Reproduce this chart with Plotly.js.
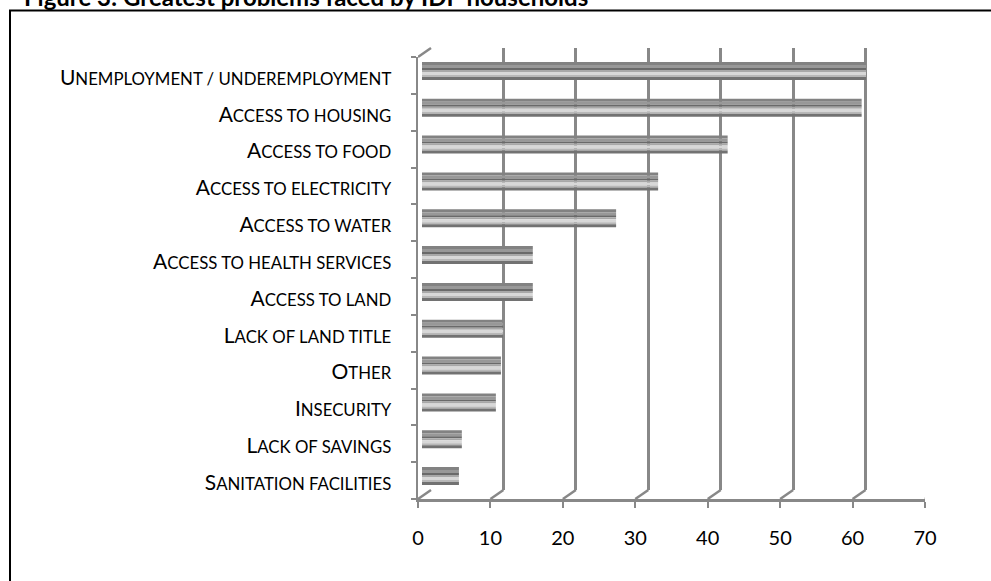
<!DOCTYPE html>
<html>
<head>
<meta charset="utf-8">
<script src="https://cdn.plot.ly/plotly-3.0.1.min.js"></script>
<style>html,body{margin:0;padding:0;background:#fff;}#chart{width:991px;height:581px;}</style>
</head>
<body>
<div id="chart"></div>
<script>
// ---- data ----
const categories = [
  "Unemployment / underemployment",
  "Access to housing",
  "Access to food",
  "Access to electricity",
  "Access to water",
  "Access to health services",
  "Access to land",
  "Lack of land title",
  "Other",
  "Insecurity",
  "Lack of savings",
  "Sanitation facilities"
];
const values = [61.3, 60.7, 42.2, 32.6, 26.8, 15.3, 15.3, 11.2, 10.9, 10.2, 5.5, 5.1];
const xTicks = [0, 10, 20, 30, 40, 50, 60, 70];
const titleText = "Figure 3: Greatest problems faced by IDP households";

// ---- geometry helpers (pixels -> paper) ----
const W = 991, H = 581;
const px = v => v / W;
const py = v => 1 - v / H;

// small-caps rendering of a label: capitals large, lower-case letters as smaller capitals
function smallCaps(s) {
  let out = '', buf = '';
  const flush = () => { if (buf) { out += '<span style="font-size:16.8px">' + buf.toUpperCase() + '</span>'; buf = ''; } };
  for (const ch of s) {
    if (ch !== ch.toLowerCase()) { flush(); out += ch; }
    else buf += ch;
  }
  flush();
  return out;
}
const tickText = categories.map(smallCaps);

// stripes for pseudo-cylindrical bars: [fromTopPx, toTopPx, colour]; bar spans 18px
const barTop = -13.5, bandPx = 36.83;
const stripes = [
  [0, 3, '#828282'],
  [3, 6, '#989898'],
  [6, 8, '#6a6a6a'],
  [8, 10, '#a8a8a8'],
  [10, 13, '#d8d8d8'],
  [13, 15, '#b8b8b8'],
  [15, 18, '#727272']
];

const traces = [];
// invisible trace for back subplot
traces.push({x: [0], y: [0], xaxis: 'x', yaxis: 'y', type: 'scatter', mode: 'markers',
  marker: {opacity: 0}, hoverinfo: 'skip', showlegend: false});
stripes.forEach(s => {
  traces.push({
    type: 'bar', orientation: 'h', x: values, y: categories,
    xaxis: 'x2', yaxis: 'y2',
    offset: (barTop + s[0]) / bandPx,
    width: (s[1] - s[0]) / bandPx,
    marker: {color: s[2], line: {width: 0}},
    showlegend: false, hoverinfo: 'x+y'
  });
});
// invisible trace for front axes subplot
traces.push({x: categories.map(() => 0), y: categories, xaxis: 'x3', yaxis: 'y3', type: 'scatter', mode: 'markers',
  marker: {opacity: 0}, hoverinfo: 'skip', showlegend: false});

const gridCol = '#888888';
const frontBottom = py(499), frontTop = py(57);
const catRange = [categories.length - 0.5, -0.5];
const shapes = [];
// floor diagonals
xTicks.forEach(t => {
  shapes.push({type: 'line', xref: 'x3', yref: 'paper', xsizemode: 'pixel', ysizemode: 'pixel',
    xanchor: t, yanchor: frontBottom, x0: 0, x1: 13, y0: 0, y1: 9,
    line: {color: gridCol, width: 2.5}});
});
// top-left wall diagonal
shapes.push({type: 'line', xref: 'x3', yref: 'paper', xsizemode: 'pixel', ysizemode: 'pixel',
  xanchor: 0, yanchor: frontTop, x0: 0, x1: 13, y0: 0, y1: 9,
  line: {color: gridCol, width: 2.5}});
// frame
shapes.push({type: 'rect', xref: 'paper', yref: 'paper', x0: px(10), x1: 1.02, y0: -0.05, y1: py(10.5),
  line: {color: '#000', width: 2}, fillcolor: 'rgba(0,0,0,0)'});

const layout = {
  width: W, height: H,
  margin: {l: 0, r: 0, t: 0, b: 0},
  paper_bgcolor: '#fff', plot_bgcolor: 'rgba(0,0,0,0)',
  barmode: 'overlay', showlegend: false,
  font: {family: 'Lato, sans-serif', color: '#000'},
  // back wall
  xaxis: {domain: [px(431), px(938)], range: [0, 70], tickvals: xTicks, showgrid: true,
    gridcolor: gridCol, gridwidth: 3, showticklabels: false, zeroline: false, showline: false,
    ticks: '', fixedrange: true, anchor: 'y'},
  yaxis: {domain: [py(490), py(48)], range: [0, 1], showgrid: false, showticklabels: false,
    zeroline: false, showline: false, ticks: '', anchor: 'x'},
  // bars (mid depth)
  xaxis2: {domain: [px(422), px(929)], range: [0, 70], visible: false, anchor: 'y2'},
  yaxis2: {domain: [frontBottom, frontTop], type: 'category', categoryorder: 'array',
    categoryarray: categories, range: catRange, visible: false, anchor: 'x2'},
  // front axes
  xaxis3: {domain: [px(418), px(925)], range: [0, 70], tickvals: xTicks, showgrid: false,
    zeroline: false, showline: true, linecolor: gridCol, linewidth: 2.5,
    ticks: 'outside', ticklen: 6, tickwidth: 2, tickcolor: gridCol, ticklabelstandoff: 13,
    tickfont: {family: 'Lato, sans-serif', size: 20, color: '#000'}, anchor: 'y3'},
  yaxis3: {domain: [frontBottom, frontTop], type: 'category', categoryorder: 'array',
    categoryarray: categories, range: catRange, tickson: 'boundaries',
    tickvals: categories, ticktext: tickText,
    showgrid: false, zeroline: false, showline: true, linecolor: gridCol, linewidth: 2.5,
    ticks: 'outside', ticklen: 5, tickwidth: 2, tickcolor: gridCol, ticklabelstandoff: 20,
    ticklabelshift: -2,
    tickfont: {family: 'Lato, sans-serif', size: 21, color: '#000'},
    anchor: 'x3'},
  shapes: shapes,
  annotations: [{
    text: titleText, xref: 'paper', yref: 'paper', x: px(22), y: py(-4),
    xanchor: 'left', yanchor: 'middle', showarrow: false,
    font: {family: 'Lato, sans-serif', size: 24, color: '#000', weight: 'bold'}
  }]
};

Plotly.newPlot('chart', traces, layout, {displayModeBar: false, staticPlot: true});
</script>
</body>
</html>
